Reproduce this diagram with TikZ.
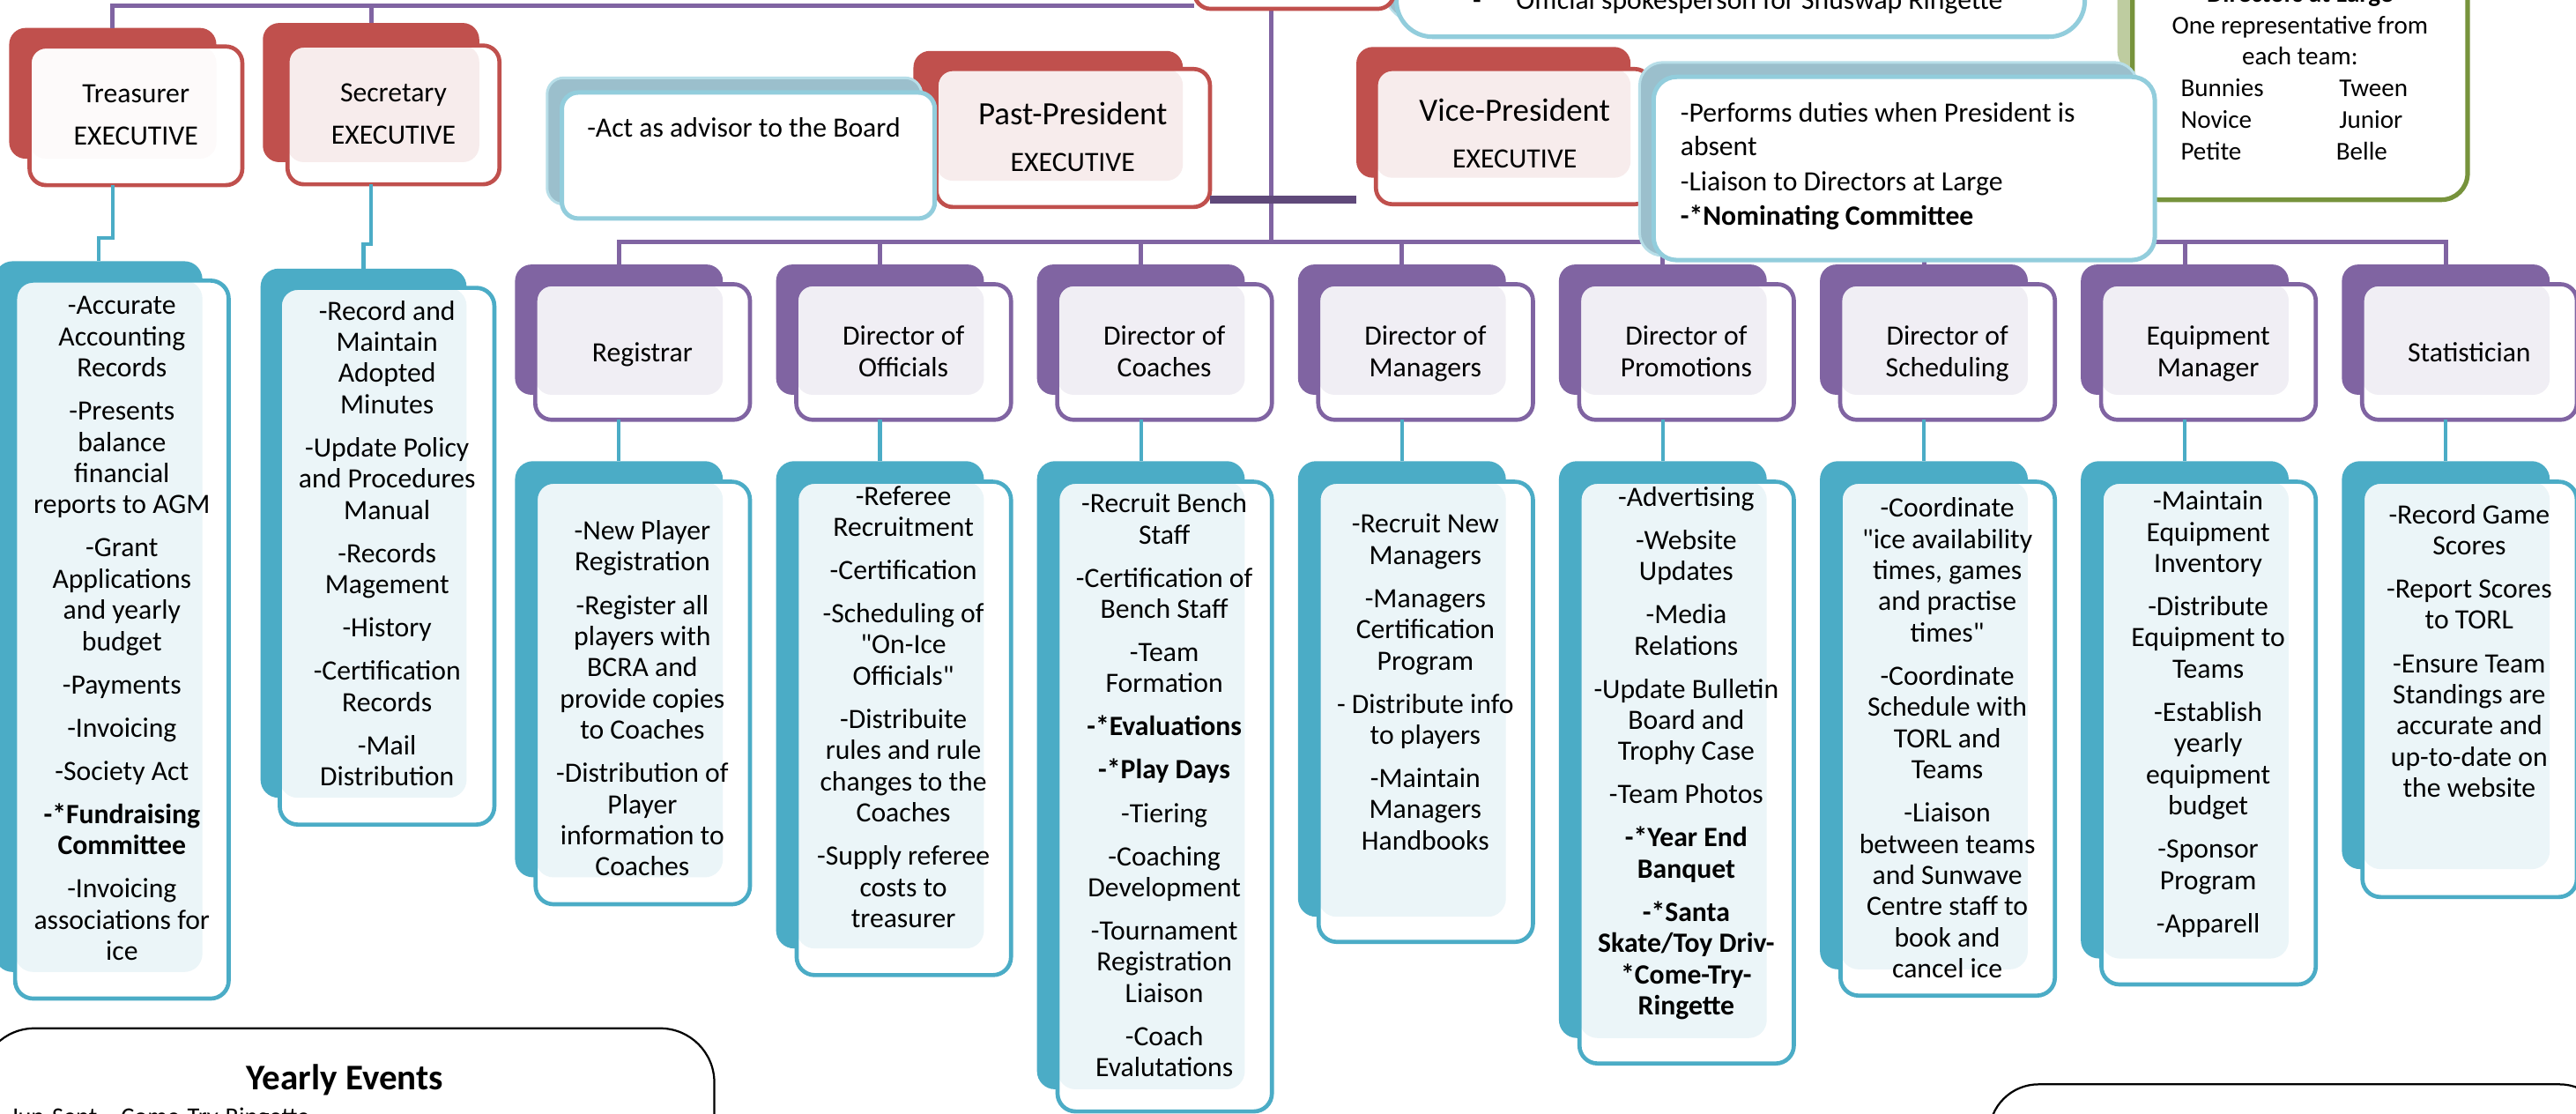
\documentclass[tikz,border=0pt]{standalone}
\usepackage{fontspec}
\setmainfont{Carlito}[Ligatures=TeXOff]
\usetikzlibrary{calc,fit}

\definecolor{cred}{HTML}{C0504D}
\definecolor{cpink}{HTML}{F7ECEC}
\definecolor{cwhitepink}{HTML}{FDFAFA}
\definecolor{cpurp}{HTML}{8064A2}
\definecolor{cpurplt}{HTML}{F0EEF4}
\definecolor{cteal}{HTML}{4BACC6}
\definecolor{ctealt}{HTML}{EBF5F8}
\definecolor{cdark}{HTML}{5F497A}
\definecolor{cblue}{HTML}{92CDDC}
\definecolor{cblueback}{HTML}{9BBFCC}
\definecolor{cblueedge}{HTML}{B7DEE8}
\definecolor{cgreen}{HTML}{77933C}
\definecolor{cgreenback}{HTML}{BECCA0}

\tikzset{
  purpline/.style={draw=cpurp, line width=1.35pt},
  tealline/.style={draw=cteal, line width=1.1pt},
  darkline/.style={draw=cdark, line width=2.25pt},
  lst/.style={font=\fontsize{8.5}{9.5}\selectfont, align=center, inner sep=0pt, anchor=north},
  ttl/.style={font=\fontsize{8.5}{10}\selectfont, anchor=base, inner sep=0pt},
  ttlw/.style={font=\fontsize{8.5}{10}\selectfont, anchor=base west, inner sep=0pt},
}

\newcommand{\tstrut}{\rule{0pt}{6.65pt}}
\newcommand{\pgap}{\\[3.65pt]}
\newcommand{\qq}{\symbol{"22}}

% #1 name #2 main colour #3 light colour #4 back nw #5 back se #6 front nw #7 front se #8 radius
\newcommand{\layered}[8]{%
  \coordinate (#1-bnw) at #4; \coordinate (#1-bse) at #5;
  \coordinate (#1-fnw) at #6; \coordinate (#1-fse) at #7;
  \coordinate (#1-btop) at ($(#1-bnw)!0.5!(#1-bnw -| #1-bse)$);
  \fill[#2, rounded corners=#8] (#1-bnw) rectangle (#1-bse);
  \fill[white, rounded corners=#8] (#1-fnw) rectangle (#1-fse);
  \fill[#3, rounded corners=#8] (#1-fnw) rectangle (#1-bse);
  \node[fit=(#1-fnw)(#1-fse), inner sep=0pt, draw=#2, line width=1.25pt, rounded corners=#8] (#1) {};
}
\newcommand{\director}[2]{%
  \layered{#1}{cpurp}{cpurplt}{(#2,161)}{(#2+126.5,240.3)}{(#2+12.3,173)}{(#2+143,255.5)}{5pt}}
\newcommand{\listbox}[4]{%
  \layered{#1}{cteal}{ctealt}{(#2,280.7)}{(#2+126.5,#3)}{(#2+12.5,293.2)}{(#2+143,#4)}{5.5pt}}

\begin{document}
\begin{tikzpicture}[x=0.5pt, y=-0.5pt]
\useasboundingbox (0,0) rectangle (1568,678);
\fill[white] (0,0) rectangle (1568,678);
\clip (0,0) rectangle (1568,678);

% ---------- directors ----------
\director{reg}{313.5}
\director{off}{472.4}
\director{coa}{631.2}
\director{man}{790.1}
\director{pro}{948.9}
\director{sch}{1107.8}
\director{equ}{1266.6}
\director{sta}{1425.5}

\node[ttl] (reg-t) at (391,220) {Registrar};
\node[ttl] (off-t1) at (549.9,210) {Director of};
\node[ttl] (off-t2) at (549.9,229.2) {Officials};
\node[ttl] (coa-t1) at (708.7,210) {Director of};
\node[ttl] (coa-t2) at (708.7,229.2) {Coaches};
\node[ttl] (man-t1) at (867.6,210) {Director of};
\node[ttl] (man-t2) at (867.6,229.2) {Managers};
\node[ttl] (pro-t1) at (1026.4,210) {Director of};
\node[ttl] (pro-t2) at (1026.4,229.2) {Promotions};
\node[ttl] (sch-t1) at (1185.3,210) {Director of};
\node[ttl] (sch-t2) at (1185.3,229.2) {Scheduling};
\node[ttl] (equ-t1) at (1344.1,210) {Equipment};
\node[ttl] (equ-t2) at (1344.1,229.2) {Manager};
\node[ttl] (sta-t) at (1503,220) {Statistician};

% ---------- duty lists ----------
\listbox{regL}{313.5}{534}{550.4}
\listbox{offL}{472.4}{577.3}{593.5}
\listbox{coaL}{631.2}{663}{676.5}
\listbox{manL}{790.1}{558}{573.3}
\listbox{proL}{948.9}{631.8}{647.3}
\listbox{schL}{1107.8}{590}{606}
\listbox{equL}{1266.6}{583.4}{599.2}
\listbox{staL}{1425.5}{529}{546}

\foreach \n in {reg,off,coa,man,pro,sch,equ,sta}
  \draw[tealline] (\n-btop |- \n-fse) -- (\n L-btop);

\node[lst] (regL-t) at (391,314.9) {\tstrut -New Player\\Registration\pgap
-Register all\\players with\\BCRA and\\provide copies\\to Coaches\pgap
-Distribution of\\Player\\information to\\Coaches};

\node[lst] (offL-t) at (549.9,293.7) {\tstrut -Referee\\Recruitment\pgap
-Certification\pgap
-Scheduling of\\\qq On-Ice\\Officials\qq\pgap
-Distribuite\\rules and rule\\changes to the\\Coaches\pgap
-Supply referee\\costs to\\treasurer};

\node[lst] (coaL-t) at (708.7,298.3) {\tstrut -Recruit Bench\\Staff\pgap
-Certification of\\Bench Staff\pgap
-Team\\Formation\pgap
\textbf{-*Evaluations}\pgap
\textbf{-*Play Days}\pgap
-Tiering\pgap
-Coaching\\Development\pgap
-Tournament\\Registration\\Liaison\pgap
-Coach\\Evalutations};

\node[lst] (manL-t) at (867.6,310.7) {\tstrut -Recruit New\\Managers\pgap
-Managers\\Certification\\Program\pgap
- Distribute info\\to players\pgap
-Maintain\\Managers\\Handbooks};

\node[lst] (proL-t) at (1026.4,294.3) {\tstrut -Advertising\pgap
-Website\\Updates\pgap
-Media\\Relations\pgap
-Update Bulletin\\Board and\\Trophy Case\pgap
-Team Photos\pgap
\textbf{-*Year End}\\\textbf{Banquet}\pgap
\textbf{-*Santa}\\\textbf{Skate/Toy Driv-}\\\textbf{*Come-Try-}\\\textbf{Ringette}};

\node[lst] (schL-t) at (1185.3,301) {\tstrut -Coordinate\\\qq ice availability\\times, games\\and practise\\times\qq\pgap
-Coordinate\\Schedule with\\TORL and\\Teams\pgap
-Liaison\\between teams\\and Sunwave\\Centre staff to\\book and\\cancel ice};

\node[lst] (equL-t) at (1344.1,296.7) {\tstrut -Maintain\\Equipment\\Inventory\pgap
-Distribute\\Equipment to\\Teams\pgap
-Establish\\yearly\\equipment\\budget\pgap
-Sponsor\\Program\pgap
-Apparell};

\node[lst] (staL-t) at (1503,305) {\tstrut -Record Game\\Scores\pgap
-Report Scores\\to TORL\pgap
-Ensure Team\\Standings are\\accurate and\\up-to-date on\\the website};

% ---------- treasurer / secretary ----------
\layered{treas}{cred}{cwhitepink}{(5.6,17)}{(131.7,96.6)}{(18,28.3)}{(147.5,112.7)}{5pt}
\layered{sec}{cred}{cpink}{(160,14)}{(291.7,98.7)}{(175,27.7)}{(304,112.2)}{5pt}
\node[ttl] (treas-t1) at (82.75,62.6) {Treasurer};
\node[ttl] (treas-t2) at (82.75,88.5) {EXECUTIVE};
\node[ttl] (sec-t1) at (239.5,61.7) {Secretary};
\node[ttl] (sec-t2) at (239.5,87.6) {EXECUTIVE};

\layered{tl}{cteal}{ctealt}{(-3.3,159)}{(123.2,591.6)}{(9.2,170.8)}{(139.2,607.8)}{5.5pt}
\layered{sl}{cteal}{ctealt}{(158.6,163.5)}{(284,485.6)}{(170.3,175.2)}{(300.9,501.9)}{5.5pt}

\node[lst] (tl-t) at (74.2,177.7) {\tstrut -Accurate\\Accounting\\Records\pgap
-Presents\\balance\\financial\\reports to AGM\pgap
-Grant\\Applications\\and yearly\\budget\pgap
-Payments\pgap
-Invoicing\pgap
-Society Act\pgap
\textbf{-*Fundraising}\\\textbf{Committee}\pgap
-Invoicing\\associations for\\ice};

\node[lst] (sl-t) at (235.6,181.1) {\tstrut -Record and\\Maintain\\Adopted\\Minutes\pgap
-Update Policy\\and Procedures\\Manual\pgap
-Records\\Magement\pgap
-History\pgap
-Certification\\Records\pgap
-Mail\\Distribution};

\draw[tealline] (treas-btop |- treas-fse) |- ($(tl-btop)+(0,-14)$) -- (tl-btop);
\draw[tealline] (sec-btop |- sec-fse) |- ($(sl-btop)+(0,-15)$) -- (sl-btop);

% ---------- purple connectors ----------
\coordinate (topL) at (727,3.5);
\coordinate (presdrop) at (774,5.4);
\coordinate (hub) at (774,147);
\draw[purpline] (treas-btop) |- (topL);
\draw[purpline] (sec-btop) -- (sec-btop |- topL);
\draw[purpline] (presdrop) -- (hub);
\draw[purpline] (reg-btop) -- (reg-btop |- hub) -- (sta-btop |- hub) -- (sta-btop);
\foreach \n in {off,coa,man,pro,sch,equ}
  \draw[purpline] (\n-btop |- hub) -- (\n-btop);

% ---------- president callout and box ----------
\fill[cblueback, draw=cblueedge, line width=0.6pt, rounded corners=11pt] (842,-100) rectangle (1262,14);
\coordinate (pc-fnw) at (850,-100); \coordinate (pc-fse) at (1269,22.4);
\node[fit=(pc-fnw)(pc-fse), inner sep=0pt, fill=white, draw=cblue, line width=1.35pt, rounded corners=11pt] (prescall) {};
\node[ttlw] (pc-dash) at (896,5.4) {-};
\node[ttlw] (pc-t) at (922.4,5.4) {Official spokesperson for Shuswap Ringette};

\layered{pres}{cred}{cpink}{(715,-80)}{(772.5,-1)}{(727,-60)}{(848.6,5.4)}{5pt}

% ---------- past-president ----------
\layered{past}{cred}{cpink}{(556,31)}{(720,110)}{(570,42)}{(736.5,126)}{5pt}
\node[ttl, font=\fontsize{9.9}{12}\selectfont] (past-t1) at (653,76) {Past-President};
\node[ttl] (past-t2) at (653,104.6) {EXECUTIVE};

\fill[cblueback, draw=cblueedge, line width=0.8pt, rounded corners=5pt] (333,47.4) rectangle (561,124.3);
\coordinate (adv-fnw) at (342,56.3); \coordinate (adv-fse) at (569,133);
\node[fit=(adv-fnw)(adv-fse), inner sep=0pt, fill=white, draw=cblue, line width=1.35pt, rounded corners=5pt] (advisor) {};
\node[ttlw] (adv-t) at (357,83.2) {-Act as advisor to the Board};

% ---------- vice-president ----------
\layered{vice}{cred}{cpink}{(825.6,28.6)}{(992.5,108.2)}{(837.5,42)}{(1005,124.3)}{5pt}
\node[ttl, font=\fontsize{9.9}{12}\selectfont] (vice-t1) at (922,73.7) {Vice-President};
\node[ttl] (vice-t2) at (922,102.3) {EXECUTIVE};

% ---------- directors at large ----------
\fill[cgreenback, rounded corners=8pt] (1288.8,-100) rectangle (1420,46.5);
\coordinate (dal-fnw) at (1298,-100); \coordinate (dal-fse) at (1502,121.6);
\node[fit=(dal-fnw)(dal-fse), inner sep=0pt, fill=white, draw=cgreen, line width=1.4pt, rounded corners=8pt] (dal) {};
\node[ttl, font=\bfseries\fontsize{7.8}{9.5}\selectfont] (dal-t0) at (1400,1.5) {Directors at Large};
\node[ttl, font=\fontsize{7.8}{9.5}\selectfont] (dal-t1) at (1400,20.8) {One representative from};
\node[ttl, font=\fontsize{7.8}{9.5}\selectfont] (dal-t2) at (1400,39.7) {each team:};
\node[ttlw, font=\fontsize{7.8}{9.5}\selectfont] (dal-a1) at (1327,58.6) {Bunnies};
\node[ttlw, font=\fontsize{7.8}{9.5}\selectfont] (dal-b1) at (1423.5,58.6) {Tween};
\node[ttlw, font=\fontsize{7.8}{9.5}\selectfont] (dal-a2) at (1327,78.1) {Novice};
\node[ttlw, font=\fontsize{7.8}{9.5}\selectfont] (dal-b2) at (1423.5,78.1) {Junior};
\node[ttlw, font=\fontsize{7.8}{9.5}\selectfont] (dal-a3) at (1327,97.5) {Petite};
\node[ttlw, font=\fontsize{7.8}{9.5}\selectfont] (dal-b3) at (1421.6,97.5) {Belle};

% ---------- vice callout ----------
\fill[cblueback, draw=cblueedge, line width=0.8pt, rounded corners=7pt] (998,38) rectangle (1301,155.6);
\coordinate (vc-fnw) at (1006.5,46.8); \coordinate (vc-fse) at (1311.6,158.3);
\node[fit=(vc-fnw)(vc-fse), inner sep=0pt, fill=white, draw=cblue, line width=1.35pt, rounded corners=7pt] (vicecall) {};
\node[ttlw] (vc-t1) at (1022.5,74.2) {-Performs duties when President is};
\node[ttlw] (vc-t2) at (1022.5,94.8) {absent};
\node[ttlw] (vc-t3) at (1022.5,116.2) {-Liaison to Directors at Large};
\node[ttlw, font=\bfseries\fontsize{8.5}{10}\selectfont] (vc-t4) at (1022.5,136.8) {-*Nominating Committee};

% ---------- dark link past / vice ----------
\coordinate (darkY) at (0,121.6);
\draw[darkline] (past-fse |- darkY) -- (vice-bnw |- darkY);

% ---------- bottom boxes ----------
\coordinate (ye-nw) at (-12,625.9); \coordinate (ye-se) at (434.8,760);
\node[fit=(ye-nw)(ye-se), inner sep=0pt, draw=black, line width=0.6pt, rounded corners=16.5pt] (yearly) {};
\node[ttl, font=\bfseries\fontsize{11}{13}\selectfont] (ye-title) at (210,663.4) {Yearly Events};
\node[ttlw, font=\fontsize{7.6}{9}\selectfont] (ye-l1) at (5.8,684.8) {Jun-Sept – Come-Try-Ringette};

\coordinate (nb-nw) at (1210.8,660); \coordinate (nb-se) at (1588,780);
\node[fit=(nb-nw)(nb-se), inner sep=0pt, draw=black, line width=0.6pt, rounded corners=15pt] (notes) {};
\end{tikzpicture}
\end{document}
